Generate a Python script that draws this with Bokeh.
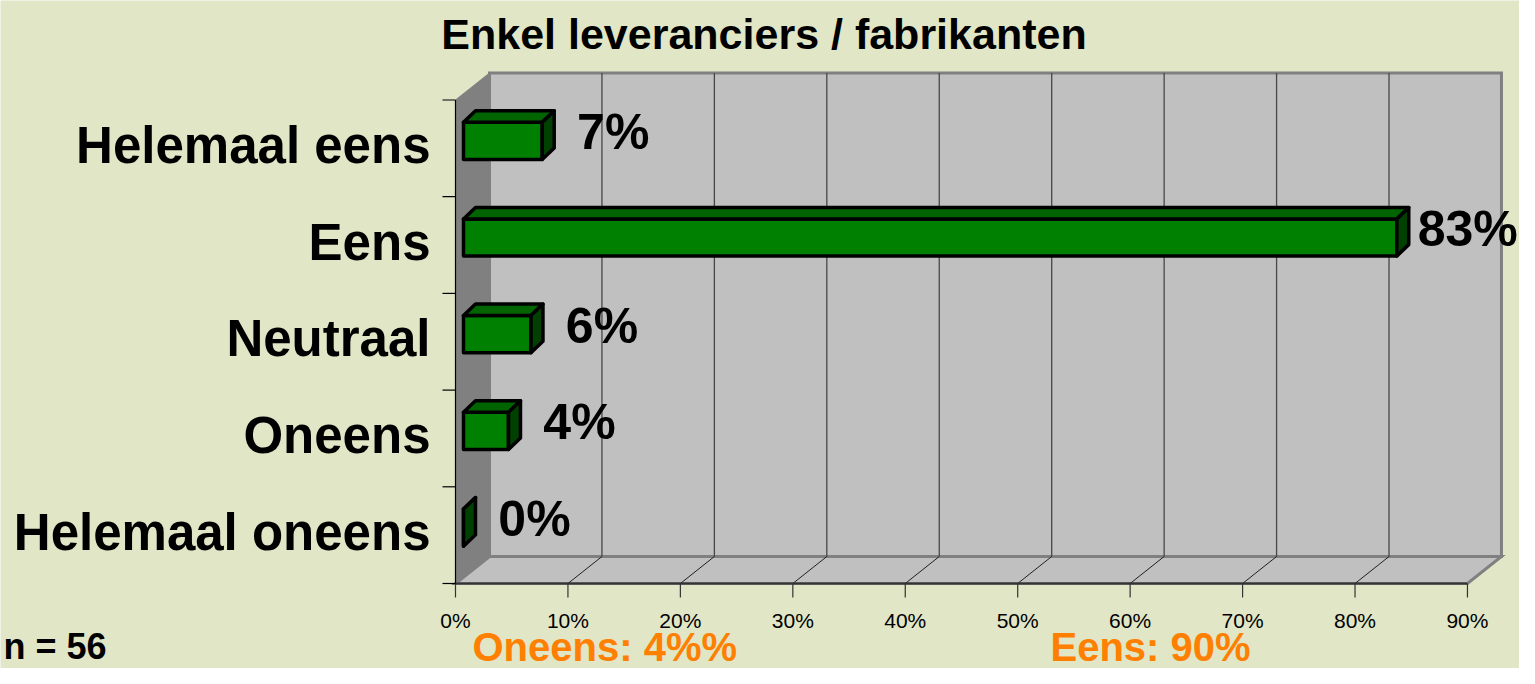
from bokeh.plotting import figure
from bokeh.models import Range1d
from bokeh.embed import file_html
from bokeh.resources import INLINE
from bokeh.core.properties import value

# ---------------- data ----------------
categories = ["Helemaal oneens", "Oneens", "Neutraal", "Eens", "Helemaal eens"]  # bottom -> top
percentages = [0, 4, 6, 83, 7]
value_labels = ["0%", "4%", "6%", "83%", "7%"]
x_ticks = [0, 10, 20, 30, 40, 50, 60, 70, 80, 90]
x_tick_labels = ["0%", "10%", "20%", "30%", "40%", "50%", "60%", "70%", "80%", "90%"]
title_text = "Enkel leveranciers / fabrikanten"
sample_text = "n = 56"
summary_left = "Oneens: 4%%"
summary_right = "Eens: 90%"

# ---------------- style / geometry ----------------
W, H = 1519, 668
BG = "#E0E6C6"
WALL = "#C0C0C0"
SIDE = "#808080"
FONT = "Liberation Sans"
PX, PY = 11.244, 96.7          # pixels per data unit
OX, OY = 455, 583              # pixel position of the origin (0%, bottom)
DX, DY = 34 / PX, 27 / PY      # depth of the 3D box
BAR_X0 = 8 / PX                # bar front-face offset
BAR_H = 0.385
BAR_LIFT = 0.078
BDX, BDY = 12 / PX, 11.5 / PY  # bar depth
LABEL_GAP = 59 / PX

n = len(categories)
xmax = x_ticks[-1]

p = figure(width=W, height=H, output_backend="svg", toolbar_location=None,
           x_range=Range1d(-OX / PX, (W - OX) / PX), y_range=Range1d((OY - H) / PY, OY / PY),
           x_axis_location=None, y_axis_location=None,
           min_border=0, min_border_left=0, min_border_right=0, min_border_top=0, min_border_bottom=0,
           background_fill_color=BG, border_fill_color=BG, outline_line_color=None)
p.xgrid.visible = False
p.ygrid.visible = False

# floor
p.patch([0, xmax, xmax + DX, DX], [0, 0, DY, DY], fill_color=WALL,
        line_color=SIDE, line_width=3, line_join="miter")
# back wall
p.quad(left=[DX], right=[xmax + DX], bottom=[DY], top=[n + DY], fill_color=WALL,
       line_color=SIDE, line_width=3, line_join="miter")
# left wall
p.patch([0, DX, DX, 0], [0, DY, n + DY, n], fill_color=SIDE, line_color=SIDE, line_width=1)

# gridlines on back wall and floor
inner = x_ticks[1:-1]
p.segment(x0=[t + DX for t in inner], y0=[DY] * len(inner),
          x1=[t + DX for t in inner], y1=[n + DY] * len(inner),
          line_color="#474747", line_width=1.3)
p.segment(x0=inner, y0=[0] * len(inner), x1=[t + DX for t in inner], y1=[DY] * len(inner),
          line_color="#202020", line_width=1)

# value axis (bottom): line, ticks, labels
p.segment(x0=[0], y0=[0], x1=[xmax], y1=[0], line_color="#333333", line_width=2)
p.segment(x0=x_ticks, y0=[0] * len(x_ticks), x1=x_ticks, y1=[-14 / PY] * len(x_ticks),
          line_color="#333333", line_width=1.2)
p.text(x=x_ticks, y=[-37 / PY] * len(x_ticks), text=x_tick_labels,
       text_font=value(FONT), text_font_size="21px", text_align="center",
       text_baseline="middle", text_color="black")

# category axis (left): line, boundary ticks, labels
bounds = list(range(n + 1))
p.segment(x0=[0], y0=[0], x1=[0], y1=[n], line_color="black", line_width=1.2)
p.segment(x0=[-13 / PX] * len(bounds), y0=bounds, x1=[0] * len(bounds), y1=bounds,
          line_color="black", line_width=1.2)
p.text(x=[-25 / PX] * n, y=[i + 0.53 for i in range(n)], text=categories,
       text_font=value(FONT), text_font_style="bold", text_font_size="51px",
       text_align="right", text_baseline="middle", text_color="black")

# bars
front_x, front_y, top_x, top_y, side_x, side_y = [], [], [], [], [], []
for i, v in enumerate(percentages):
    c = i + 0.5 + BAR_LIFT
    yb, yt = c - BAR_H / 2, c + BAR_H / 2
    x0, x1 = BAR_X0, BAR_X0 + v
    front_x.append([x0, x1, x1, x0]); front_y.append([yb, yb, yt, yt])
    top_x.append([x0, x1, x1 + BDX, x0 + BDX]); top_y.append([yt, yt, yt + BDY, yt + BDY])
    side_x.append([x1, x1 + BDX, x1 + BDX, x1]); side_y.append([yb, yb + BDY, yt + BDY, yt])

p.patches(front_x, front_y, fill_color="#008000", line_color="black", line_width=3.5, line_join="round")
p.patches(top_x, top_y, fill_color="#006400", line_color="black", line_width=3.5, line_join="round")
p.patches(side_x, side_y, fill_color="#004000", line_color="black", line_width=3.5, line_join="round")

# value labels
p.text(x=[BAR_X0 + v + BDX + LABEL_GAP for v in percentages],
       y=[i + 0.5 + BAR_LIFT + 0.09 for i in range(n)],
       text=value_labels, text_font=value(FONT), text_font_style="bold",
       text_font_size="50px", text_align="center", text_baseline="middle", text_color="black")

# title
p.text(x=[(763.5 - OX) / PX], y=[(OY - 33) / PY], text=[title_text],
       text_font=value(FONT), text_font_style="bold", text_font_size="43px",
       text_align="center", text_baseline="middle", text_color="black")

# footer texts (kept fully inside the canvas)
p.text(x=[(472 - OX) / PX, (1050 - OX) / PX], y=[(OY - 646) / PY] * 2,
       text=[summary_left, summary_right], text_font=value(FONT), text_font_style="bold",
       text_font_size="40px", text_align="left", text_baseline="middle", text_color="#FF8000")
p.text(x=[(3 - OX) / PX], y=[(OY - 646) / PY], text=[sample_text],
       text_font=value(FONT), text_font_style="bold", text_font_size="36px",
       text_align="left", text_baseline="middle", text_color="black")

open("out.html", "w").write(file_html(p, INLINE))
